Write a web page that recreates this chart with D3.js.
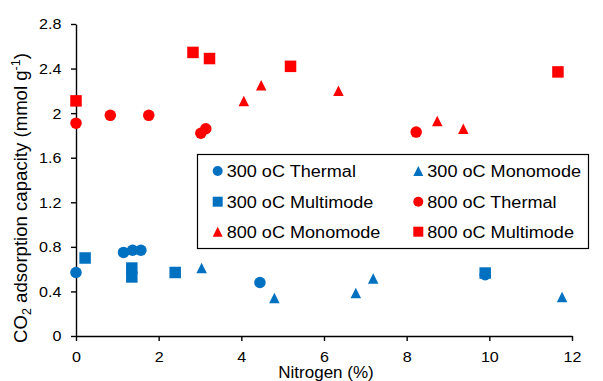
<!DOCTYPE html>
<html>
<head>
<meta charset="utf-8">
<script src="https://cdn.jsdelivr.net/npm/d3@7"></script>
<style>
  body { margin: 0; background: #fff; }
  text { font-family: "Liberation Sans", Arial, sans-serif; fill: #000; }
</style>
</head>
<body>
<div id="chart"></div>
<script>
// data (x = nitrogen %, y = CO2 capacity)
const thermal300X = [0, 1.15, 1.37, 1.57, 4.45, 9.9];
const thermal300Y = [0.57, 0.75, 0.77, 0.77, 0.48, 0.55];
const mono300X = [3.04, 4.8, 6.77, 7.19, 11.76];
const mono300Y = [0.61, 0.34, 0.385, 0.515, 0.35];
const multi300X = [0.22, 1.35, 1.35, 2.4, 9.9];
const multi300Y = [0.70, 0.61, 0.53, 0.57, 0.565];
const thermal800X = [0, 0.83, 1.76, 3.02, 3.14, 8.23];
const thermal800Y = [1.91, 1.98, 1.98, 1.82, 1.86, 1.83];
const mono800X = [4.06, 4.48, 6.35, 8.74, 9.37];
const mono800Y = [2.11, 2.25, 2.20, 1.93, 1.86];
const multi800X = [0, 2.83, 3.23, 5.19, 11.66];
const multi800Y = [2.11, 2.545, 2.49, 2.42, 2.37];

const seriesNames = ["300 oC Thermal", "300 oC Monomode", "300 oC Multimode",
                     "800 oC Thermal", "800 oC Monomode", "800 oC Multimode"];
const xTicks = [0, 2, 4, 6, 8, 10, 12];
const yTicks = [0, 0.4, 0.8, 1.2, 1.6, 2, 2.4, 2.8];

const BLUE = "#0070C0", RED = "#FF0000";
const series = [
  {name: seriesNames[0], xs: thermal300X, ys: thermal300Y, shape: "circle", color: BLUE},
  {name: seriesNames[1], xs: mono300X, ys: mono300Y, shape: "triangle", color: BLUE},
  {name: seriesNames[2], xs: multi300X, ys: multi300Y, shape: "square", color: BLUE},
  {name: seriesNames[3], xs: thermal800X, ys: thermal800Y, shape: "circle", color: RED},
  {name: seriesNames[4], xs: mono800X, ys: mono800Y, shape: "triangle", color: RED},
  {name: seriesNames[5], xs: multi800X, ys: multi800Y, shape: "square", color: RED}
];

const width = 603, height = 381;
const plot = {left: 76, right: 572, top: 24, bottom: 336};
const TEXT_STRETCH = 1.15;

const svg = d3.select("#chart").append("svg")
  .attr("width", width)
  .attr("height", height);

const x = d3.scaleLinear().domain([0, 12]).range([plot.left, plot.right]);
const y = d3.scaleLinear().domain([0, 2.8]).range([plot.bottom, plot.top]);

const fmt = d => String(+d.toFixed(1));

// y axis
const yAxisG = svg.append("g")
  .attr("transform", "translate(" + plot.left + ",0)")
  .call(d3.axisLeft(y).tickValues(yTicks).tickFormat(fmt).tickSize(5).tickSizeOuter(0));
yAxisG.selectAll("text")
  .attr("x", 0).attr("dy", "0.35em")
  .attr("transform", "translate(-14.5,0) scale(" + TEXT_STRETCH + ",1)")
  .style("font-size", "14px");

// x axis
const xAxisG = svg.append("g")
  .attr("transform", "translate(0," + plot.bottom + ")")
  .call(d3.axisBottom(x).tickValues(xTicks).tickFormat(fmt).tickSize(5).tickSizeOuter(0));
xAxisG.selectAll("text")
  .attr("y", 0).attr("dy", 0)
  .attr("transform", "translate(0,25.7) scale(" + TEXT_STRETCH + ",1)")
  .style("font-size", "14px");

svg.selectAll(".domain, .tick line").attr("stroke", "#000").attr("stroke-width", 1.4);
svg.selectAll(".tick text").attr("font-family", null).attr("font-size", null);

// axis titles
svg.append("text")
  .attr("x", 326).attr("y", 378)
  .attr("text-anchor", "middle")
  .style("font-size", "17px")
  .text("Nitrogen (%)");

const yTitle = svg.append("text")
  .attr("transform", "translate(27,198) rotate(-90)")
  .attr("text-anchor", "middle")
  .style("font-size", "18.6px");
yTitle.append("tspan").text("CO");
yTitle.append("tspan").attr("dy", 4).style("font-size", "12.5px").text("2");
yTitle.append("tspan").attr("dy", -4).text(" adsorption capacity (mmol g");
yTitle.append("tspan").attr("dy", -7).style("font-size", "12.5px").text("-1");
yTitle.append("tspan").attr("dy", 7).text(")");

// marker path, centered on its box
function markerPath(shape, s) {
  const h = s / 2;
  if (shape === "square") return "M" + (-h) + "," + (-h) + "h" + s + "v" + s + "h" + (-s) + "Z";
  if (shape === "triangle") return "M0," + (-h) + "L" + h + "," + h + "L" + (-h) + "," + h + "Z";
  return "M" + (-h) + ",0a" + h + "," + h + " 0 1,0 " + s + ",0a" + h + "," + h + " 0 1,0 " + (-s) + ",0Z";
}

const markerSize = {circle: 11.5, square: 11.5, triangle: 10.5};

series.forEach(function (sr) {
  const pts = sr.xs.map((v, i) => [v, sr.ys[i]]);
  svg.append("g").selectAll("path")
    .data(pts)
    .enter().append("path")
    .attr("transform", d => "translate(" + x(d[0]) + "," + y(d[1]) + ")")
    .attr("d", markerPath(sr.shape, markerSize[sr.shape]))
    .attr("fill", sr.color);
});

// legend
const legend = svg.append("g");
legend.append("rect")
  .attr("x", 197.5).attr("y", 154.5)
  .attr("width", 391).attr("height", 94)
  .attr("fill", "#fff")
  .attr("stroke", "#000")
  .attr("stroke-width", 1.2);

const legendCols = [217.7, 418.3];
const legendRows = [171, 201.7, 231.7];
series.forEach(function (sr, i) {
  const cx = legendCols[i % 2], cy = legendRows[Math.floor(i / 2)];
  legend.append("path")
    .attr("transform", "translate(" + cx + "," + cy + ")")
    .attr("d", markerPath(sr.shape, 10))
    .attr("fill", sr.color);
  legend.append("text")
    .attr("transform", "translate(" + (cx + 9) + "," + (cy + 5.8) + ") scale(1.13,1)")
    .style("font-size", "16px")
    .text(sr.name);
});
</script>
</body>
</html>
